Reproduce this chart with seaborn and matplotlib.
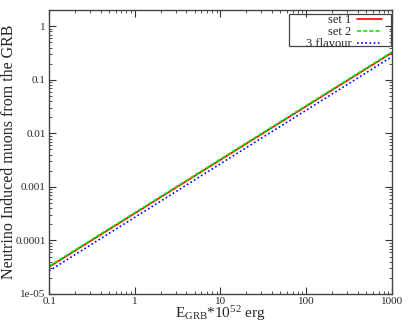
import numpy as np
import pandas as pd
import matplotlib
matplotlib.use("Agg")
import matplotlib.pyplot as plt
import matplotlib.ticker as mticker
from matplotlib.patches import Rectangle
import seaborn as sns

# -------------------- data --------------------
energy = [0.1, 1, 10, 100, 1000]
set1 = [3.2e-5, 3.2e-4, 3.2e-3, 3.2e-2, 0.32]
set2 = [3.3e-5, 3.3e-4, 3.3e-3, 3.3e-2, 0.33]
flavour3 = [2.7e-5, 2.7e-4, 2.7e-3, 2.7e-2, 0.27]

x_ticks = [0.1, 1, 10, 100, 1000]
x_labels = ["0.1", "1", "10", "100", "1000"]
y_ticks = [1e-5, 1e-4, 1e-3, 1e-2, 1e-1, 1]
y_labels = ["1e-05", "0.0001", "0.001", "0.01", "0.1", "1"]

df = pd.DataFrame(
    {
        "E": energy * 3,
        "N": set1 + set2 + flavour3,
        "series": ["set 1"] * 5 + ["set 2"] * 5 + ["3 flavour"] * 5,
    }
)

sns.set_style("ticks")
plt.rcParams["font.family"] = ["Liberation Serif", "DejaVu Serif"]
plt.rcParams["mathtext.fontset"] = "custom"
plt.rcParams["mathtext.rm"] = "Liberation Serif"
plt.rcParams["mathtext.it"] = "Liberation Serif"

fig = plt.figure(figsize=(4.09, 3.27), dpi=100)
ax = fig.add_axes([0.12, 0.101, 0.838, 0.868])

palette = {"set 1": "#ff0000", "set 2": "#00ee00", "3 flavour": "#0000ff"}
styles = {"set 1": "", "set 2": (2.5, 1.2), "3 flavour": (1, 1.5)}
sns.lineplot(
    data=df,
    x="E",
    y="N",
    hue="series",
    style="series",
    palette=palette,
    dashes=styles,
    linewidth=1.2,
    ax=ax,
)

ax.set_xscale("log")
ax.set_yscale("log")
ax.set_xlim(0.1, 1000)
ax.set_ylim(1e-5, 2)

ax.xaxis.set_major_locator(mticker.FixedLocator(x_ticks))
ax.xaxis.set_major_formatter(mticker.FixedFormatter(x_labels))
ax.yaxis.set_major_locator(mticker.FixedLocator(y_ticks))
ax.yaxis.set_major_formatter(mticker.FixedFormatter(y_labels))
ax.xaxis.set_minor_locator(mticker.LogLocator(base=10, subs=np.arange(2, 10)))
ax.yaxis.set_minor_locator(mticker.LogLocator(base=10, subs=np.arange(2, 10)))
ax.xaxis.set_minor_formatter(mticker.NullFormatter())
ax.yaxis.set_minor_formatter(mticker.NullFormatter())

ax.tick_params(which="both", direction="in", top=True, right=True, labelsize=8,
               color="#333333", pad=2.5)
ax.tick_params(which="major", length=5)
ax.tick_params(which="minor", length=2.5)
for s in ax.spines.values():
    s.set_color("#444444")
    s.set_linewidth(1.0)

ax.set_xlabel("E$_{\\mathrm{GRB}}$*10$^{52}$ erg", fontsize=11, labelpad=-1.5)
ax.set_ylabel("Neutrino Induced muons from the GRB", fontsize=11.5, labelpad=-1)

# gnuplot-style key: text right-aligned, sample after it, wide box
leg = ax.legend(
    loc="upper right",
    bbox_to_anchor=(0.975, 0.99),
    markerfirst=False,
    fontsize=9,
    frameon=False,
    handlelength=2.0,
    borderpad=0.1,
    labelspacing=0.0,
    handletextpad=0.45,
    borderaxespad=0,
)
for t in leg.get_texts():
    t.set_ha("right")
leg._legend_box.align = "right"
ax.add_patch(
    Rectangle((0.700, 0.873), 0.297, 0.113, transform=ax.transAxes,
              fill=False, edgecolor="#444444", linewidth=0.9, zorder=5)
)

fig.savefig("out.png", dpi=100)
